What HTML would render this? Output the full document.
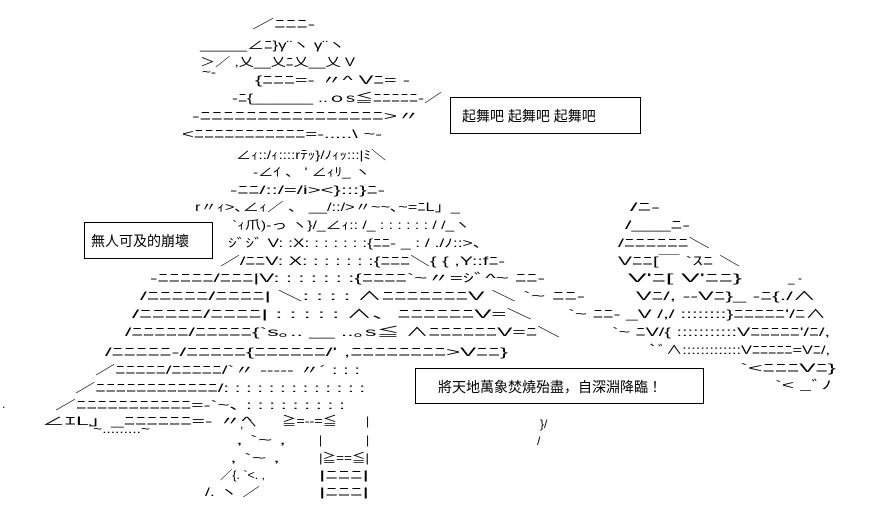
<!DOCTYPE html>
<html><head><meta charset="utf-8"><style>
html,body{margin:0;padding:0;background:#fff;}
svg{display:block}
text{font-family:"Liberation Sans","Noto Sans CJK JP",sans-serif;font-size:12px;fill:#000}
.b{font-size:14px}
</style></head><body>
<svg width="877" height="512" viewBox="0 0 877 512" xmlns="http://www.w3.org/2000/svg">
<g lengthAdjust="spacingAndGlyphs">
<text x="252" y="28" textLength="63" lengthAdjust="spacingAndGlyphs">／ﾆﾆﾆ-</text>
<text x="200" y="49" textLength="145" lengthAdjust="spacingAndGlyphs">_____∠ﾆ}γ¨ヽ γ¨ヽ</text>
<text x="200" y="66" textLength="155" lengthAdjust="spacingAndGlyphs">＞／ ,乂__乂ﾆ乂__乂 V</text>
<text x="202" y="76" textLength="14" lengthAdjust="spacingAndGlyphs">~-</text>
<text x="255" y="84" textLength="155" lengthAdjust="spacingAndGlyphs">{ﾆﾆﾆ=-  〃^ Vﾆ= -</text>
<text x="232" y="102" textLength="210" lengthAdjust="spacingAndGlyphs">-ﾆ{______ ..ｏs≦ﾆﾆﾆﾆﾆ-／</text>
<text x="192" y="120" textLength="228" lengthAdjust="spacingAndGlyphs">-ﾆﾆﾆﾆﾆﾆﾆﾆﾆﾆﾆﾆﾆﾆﾆﾆ&gt;〃</text>
<text x="182" y="138" textLength="200" lengthAdjust="spacingAndGlyphs">&lt;ﾆﾆﾆﾆﾆﾆﾆﾆﾆﾆﾆ=-.....\ ~-</text>
<text x="236" y="159" textLength="150" lengthAdjust="spacingAndGlyphs">∠ｨ::/ｨ::::rﾃｯ}/ﾉｨｯ:::|ﾐ＼</text>
<text x="253" y="176" textLength="117" lengthAdjust="spacingAndGlyphs">-∠ｲ 、 ' ∠ｨﾘ_    ヽ</text>
<text x="230" y="194" textLength="155" lengthAdjust="spacingAndGlyphs">-ﾆﾆ/::/=/i&gt;&lt;}:::}ﾆ-</text>
<text x="195" y="211" textLength="265" lengthAdjust="spacingAndGlyphs">r〃ｨ&gt;､∠ｨ／ 、 __/::/&gt;〃~~､~=ﾆL」_</text>
<text x="232" y="229" textLength="238" lengthAdjust="spacingAndGlyphs">`ｨ爪)-っ ヽ}/_∠ｨ:: /_ : : : : : : / /_ヽ</text>
<text x="228" y="247" textLength="262" lengthAdjust="spacingAndGlyphs">ｼﾞｼﾞ V: :X: : : : : : :{ﾆﾆ- _ : / ./ﾉ::&gt;、</text>
<text x="220" y="265" textLength="285" lengthAdjust="spacingAndGlyphs">／/ﾆﾆV: X: : : : : : :{ﾆﾆﾆ＼{ { ,Y::fﾆ-</text>
<text x="150" y="282" textLength="395" lengthAdjust="spacingAndGlyphs">-ﾆﾆﾆﾆﾆ/ﾆﾆﾆ|V: : : : : : :{ﾆﾆﾆﾆ`~〃=ｼﾞ^~ ﾆﾆ-</text>
<text x="140" y="300" textLength="445" lengthAdjust="spacingAndGlyphs">/ﾆﾆﾆﾆﾆ/ﾆﾆﾆﾆ| ＼: : : : ∧ﾆﾆﾆﾆﾆﾆﾆV ＼ `~ ﾆﾆ-</text>
<text x="132" y="318" textLength="400" lengthAdjust="spacingAndGlyphs">/ﾆﾆﾆﾆﾆ/ﾆﾆﾆﾆ| : : : : : ∧、ﾆﾆﾆﾆﾆﾆV=＼</text>
<text x="125" y="336" textLength="435" lengthAdjust="spacingAndGlyphs">/ﾆﾆﾆﾆﾆ/ﾆﾆﾆﾆﾆ{`s｡.. __ ..｡s≦ ∧ﾆﾆﾆﾆﾆﾆV=ﾆ＼</text>
<text x="105" y="356" textLength="403" lengthAdjust="spacingAndGlyphs">/ﾆﾆﾆﾆﾆ-/ﾆﾆﾆﾆﾆ{ﾆﾆﾆﾆﾆﾆ/' ,ﾆﾆﾆﾆﾆﾆﾆﾆ&gt;Vﾆﾆ}</text>
<text x="95" y="374" textLength="265" lengthAdjust="spacingAndGlyphs">／ﾆﾆﾆﾆﾆ/ﾆﾆﾆﾆﾆ/`〃 ----- 〃´ : : :</text>
<text x="75" y="392" textLength="290" lengthAdjust="spacingAndGlyphs">／ﾆﾆﾆﾆﾆﾆﾆﾆﾆﾆﾆﾆ/: : : : : : : : : : : : :</text>
<text x="55" y="409" textLength="290" lengthAdjust="spacingAndGlyphs">／ﾆﾆﾆﾆﾆﾆﾆﾆﾆﾆﾆ=-`~､ : : : : : : : : :</text>
<text x="2" y="408">.</text>
<text x="42" y="425" textLength="210" lengthAdjust="spacingAndGlyphs">∠ｴL」_ﾆﾆﾆﾆﾆﾆ=-   〃^</text>
<text x="282" y="425" textLength="55" lengthAdjust="spacingAndGlyphs">≧=--=≦</text>
<text x="366" y="425">|</text>
<text x="88" y="433" textLength="62" lengthAdjust="spacingAndGlyphs">`~.........~</text>
<text x="240" y="428">,  ヽ</text>
<text x="236" y="444" textLength="50" lengthAdjust="spacingAndGlyphs">,  `~ ,</text>
<text x="319" y="444">|</text><text x="366" y="444">|</text>
<text x="230" y="462" textLength="50" lengthAdjust="spacingAndGlyphs">,  `~ ,</text>
<text x="319" y="462" textLength="50" lengthAdjust="spacingAndGlyphs">|≧==≦|</text>
<text x="220" y="479" textLength="45" lengthAdjust="spacingAndGlyphs">／{. `&lt;. ,</text>
<text x="319" y="479" textLength="50" lengthAdjust="spacingAndGlyphs">|ﾆﾆﾆ|</text>
<text x="205" y="496" textLength="55" lengthAdjust="spacingAndGlyphs">/.   ヽ ／</text>
<text x="319" y="496" textLength="50" lengthAdjust="spacingAndGlyphs">|ﾆﾆﾆ|</text>
<text x="540" y="428">}/</text>
<text x="537" y="445">/</text>
<!-- right figure -->
<text x="630" y="211" textLength="30" lengthAdjust="spacingAndGlyphs">/ﾆ-</text>
<text x="625" y="229" textLength="65" lengthAdjust="spacingAndGlyphs">/___ﾆ-</text>
<text x="618" y="247" textLength="92" lengthAdjust="spacingAndGlyphs">/ﾆﾆﾆﾆﾆﾆ＼</text>
<text x="618" y="265" textLength="122" lengthAdjust="spacingAndGlyphs">Vﾆﾆ[￣ `ｽﾆ ＼</text>
<text x="628" y="282" textLength="114" lengthAdjust="spacingAndGlyphs">V'ﾆ[        V'ﾆﾆ}</text>
<text x="788" y="282">_  -</text>
<text x="636" y="300" textLength="180" lengthAdjust="spacingAndGlyphs">Vﾆ/,      --Vﾆ}_   -ﾆ{./∧</text>
<text x="568" y="318" textLength="258" lengthAdjust="spacingAndGlyphs">`~ ﾆﾆ-  _V /,/ ::::::::}ﾆﾆﾆﾆﾆ'/ﾆ∧</text>
<text x="612" y="336" textLength="218" lengthAdjust="spacingAndGlyphs">`~ ﾆV/{ :::::::::::Vﾆﾆﾆﾆﾆ'/ﾆ/,</text>
<text x="648" y="354" textLength="182" lengthAdjust="spacingAndGlyphs">`ﾞ∧:::::::::::::Vﾆﾆﾆﾆﾆ=Vﾆ/,</text>
<text x="740" y="372" textLength="96" lengthAdjust="spacingAndGlyphs">`&lt;ﾆﾆﾆVﾆ}</text>
<text x="775" y="389" textLength="57" lengthAdjust="spacingAndGlyphs">`&lt;  _ﾞﾉ</text>
</g>
<!-- boxes -->
<rect x="450.5" y="97.5" width="190" height="36" fill="none" stroke="#000"/>
<text class="b" x="462" y="121">起舞吧 起舞吧 起舞吧</text>
<rect x="84.5" y="222.5" width="128" height="36" fill="none" stroke="#000"/>
<text class="b" x="91" y="246">無人可及的崩壞</text>
<rect x="415.5" y="368.5" width="288" height="35" fill="none" stroke="#000"/>
<text class="b" x="438" y="392">將天地萬象焚燒殆盡，自深淵降臨！</text>
</svg>
</body></html>
